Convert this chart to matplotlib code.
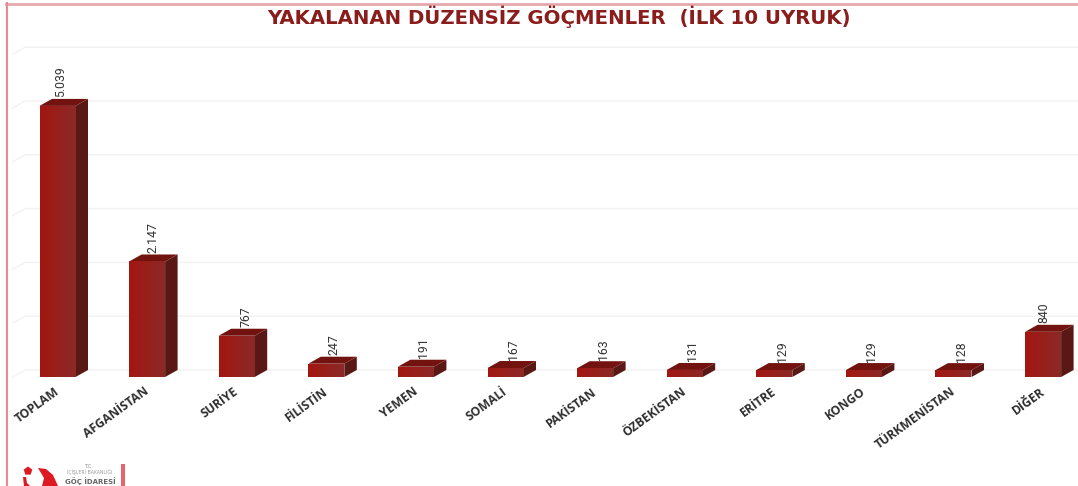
import numpy as np
import matplotlib
matplotlib.use("Agg")
import matplotlib.pyplot as plt
from matplotlib.patches import Polygon, RegularPolygon, Rectangle
from matplotlib.transforms import Affine2D

categories = ["TOPLAM", "AFGANİSTAN", "SURİYE", "FİLİSTİN", "YEMEN", "SOMALİ",
              "PAKİSTAN", "ÖZBEKİSTAN", "ERİTRE", "KONGO", "TÜRKMENİSTAN", "DİĞER"]
values = [5039, 2147, 767, 247, 191, 167, 163, 131, 129, 129, 128, 840]
gridlines = [0, 1000, 2000, 3000, 4000, 5000, 6000]
title = "YAKALANAN DÜZENSİZ GÖÇMENLER  (İLK 10 UYRUK)"

W, H = 1078, 486
PX_X = 89.6      # pixels per category
PX_Y = 0.0538    # pixels per unit
X0, Y0 = 57.5, 377
BAR_W = 36 / PX_X
DX = 12.5 / PX_X
DY = 7 / PX_Y
label_nudge_px = [-5, -2, 1, 0, 0, 0, 0, 0, 0, 0, 0, -7]

fig = plt.figure(figsize=(W / 100, H / 100), dpi=100, facecolor="white")
ax = fig.add_axes([0, 0, 1, 1])
ax.axis("off")
xlim = (-X0 / PX_X, (W - X0) / PX_X)
ylim = (-(H - Y0) / PX_Y, Y0 / PX_Y)

GRID = "#f3f3f3"
for g in gridlines:
    ax.plot([-0.5, -0.5 + DX, xlim[1]], [g, g + DY, g + DY], color=GRID, lw=1.1, zorder=1)

grad = np.linspace(0, 1, 64).reshape(1, -1)
cmap = matplotlib.colors.LinearSegmentedColormap.from_list(
    "front", ["#a31610", "#8b2a28"])

bars = ax.bar(range(len(values)), values, width=BAR_W, color="#9c1a15", zorder=3, lw=0)
for i, (b, v) in enumerate(zip(bars, values)):
    l, r = b.get_x(), b.get_x() + b.get_width()
    im = ax.imshow(grad, extent=(l, r, 0, v), aspect="auto", cmap=cmap, zorder=3.1,
                   interpolation="bilinear")
    im.set_clip_path(b)
    ax.add_patch(Polygon([(r, 0), (r + DX, DY), (r + DX, v + DY), (r, v)],
                         closed=True, fc="#5a1815", ec="none", zorder=3))
    ax.add_patch(Polygon([(l, v), (l + DX, v + DY), (r + DX, v + DY), (r, v)],
                         closed=True, fc="#72130f", ec="none", zorder=3))
    ax.text(i + 0.09 + label_nudge_px[i] / PX_X, v + DY + 1.5 / PX_Y,
            f"{v:,}".replace(",", "."), rotation=90,
            ha="center", va="bottom", fontsize=8.8, family="Roboto", color="#333333",
            zorder=4)
    ax.text(i - 0.04, -8 / PX_Y, categories[i], rotation=36, rotation_mode="anchor",
            ha="right", va="top", fontsize=8.7, fontweight="bold", family="Open Sans",
            color="#2e2e2e", zorder=4)

ax.set_xlim(*xlim)
ax.set_ylim(*ylim)

# decoration in pixel coordinates
pix = Affine2D().scale(1, -1).translate(0, H)
fig.add_artist(plt.Line2D([6, W], [4, 4], transform=pix, color="#e6a9ab", lw=2))
fig.add_artist(plt.Line2D([6.5, 6.5], [3, H], transform=pix, color="#e88a90", lw=1.5))

fig.text(559.5 / W, 1 - 17 / H, title, ha="center", va="center", fontsize=14.2,
         fontweight="bold", family="DejaVu Sans", color="#8a1c1c")

# logo
RED = "#dd1a22"
fig.add_artist(RegularPolygon((28, 471), 5, radius=4.5, orientation=np.pi, transform=pix, fc=RED, ec="none"))
fig.add_artist(Polygon([(38, 468), (46, 469), (53, 475), (58, 486), (42, 486), (44, 478)],
                       transform=pix, fc=RED, ec="none"))
fig.add_artist(Polygon([(23, 477), (26, 477), (27, 483), (30, 486), (24, 486)],
                       transform=pix, fc=RED, ec="none"))
fig.add_artist(Rectangle((121, 464), 4, 22, transform=pix, fc="#e8636b", ec="none"))
fig.text(88 / W, 1 - 466 / H, "T.C.", ha="center", va="center", fontsize=3.5, color="#888888")
fig.text(90 / W, 1 - 472 / H, "İÇİŞLERİ BAKANLIĞI", ha="center", va="center", fontsize=3.3, color="#999999")
fig.text(90 / W, 1 - 481 / H, "GÖÇ İDARESİ", ha="center", va="center", fontsize=5,
         fontweight="bold", color="#666666")

fig.savefig("out.png", dpi=100)
